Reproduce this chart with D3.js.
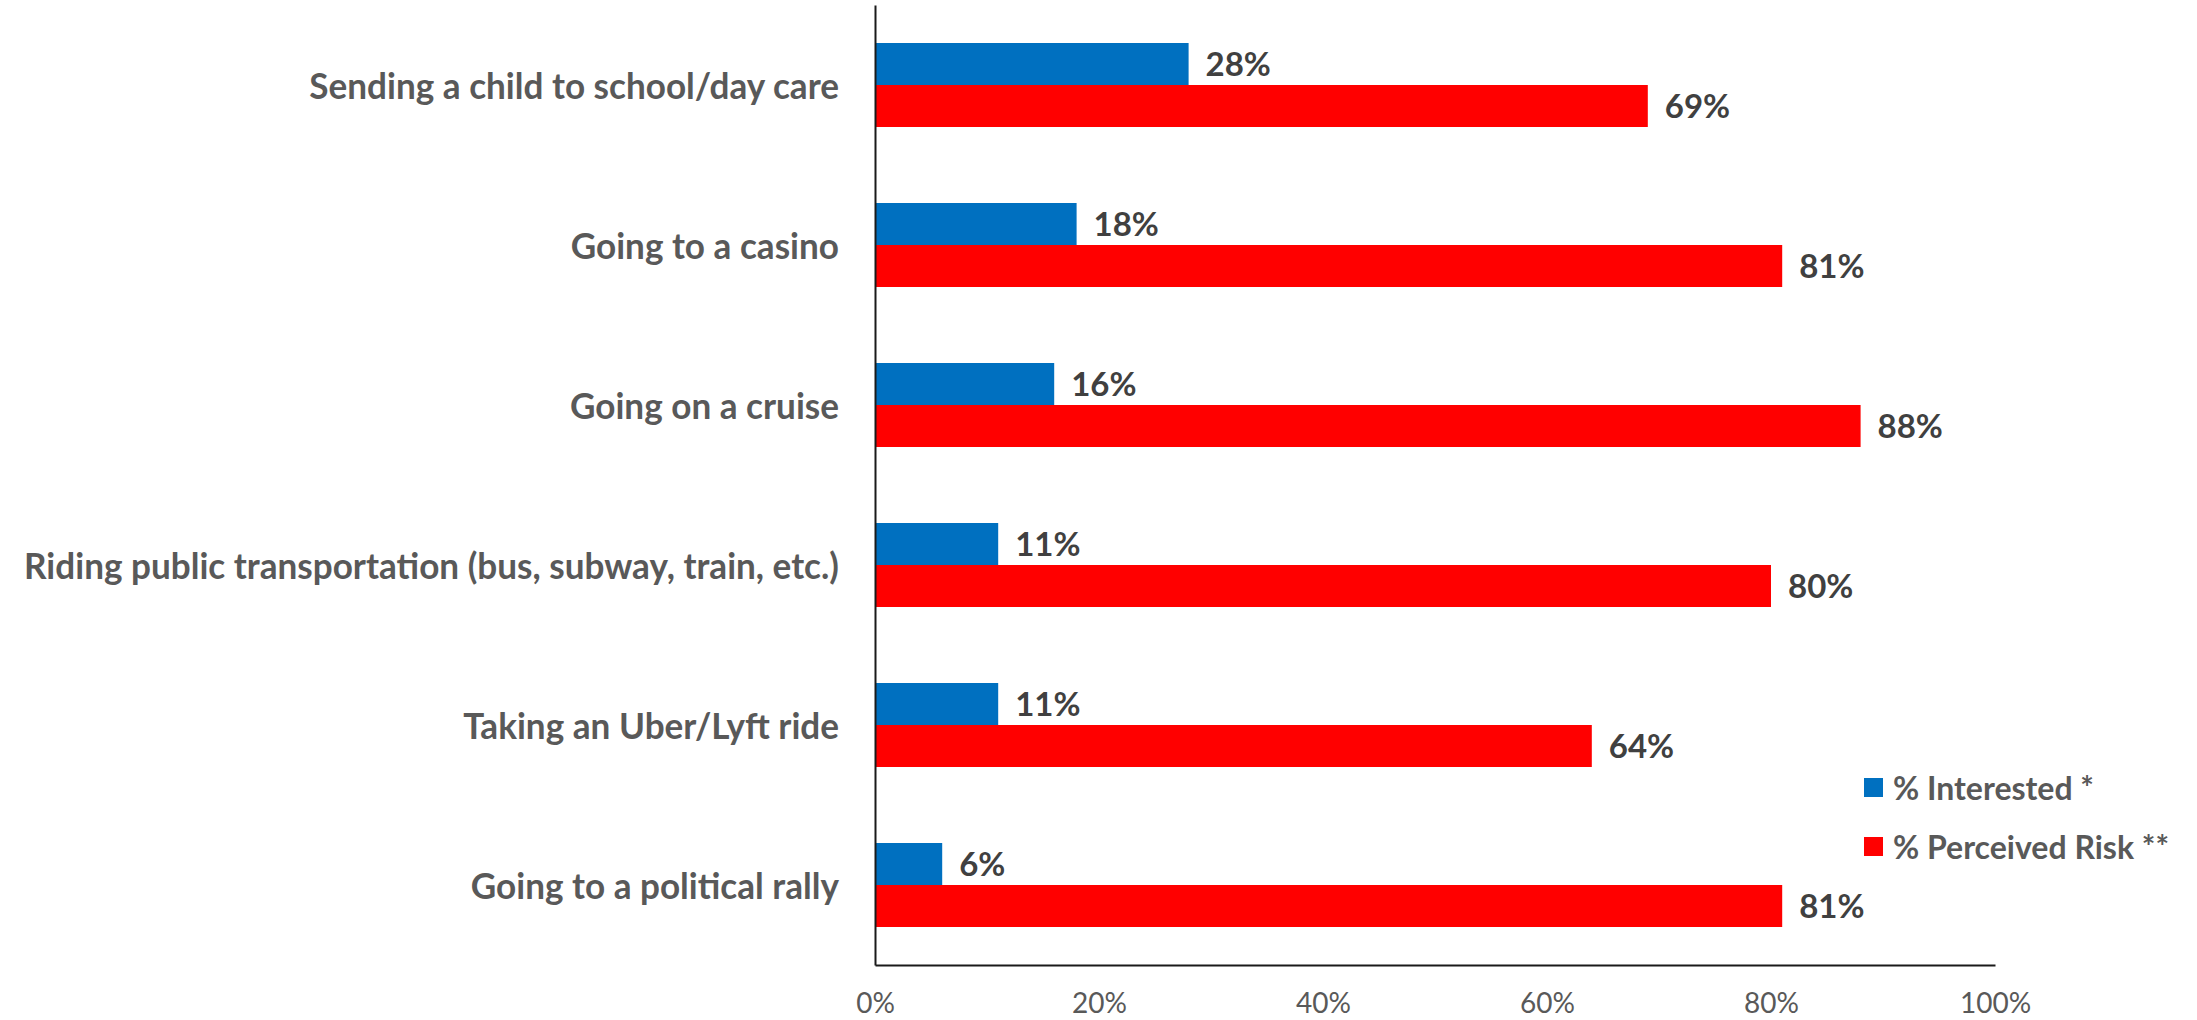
<!DOCTYPE html>
<html>
<head>
<meta charset="utf-8">
<script src="https://cdn.jsdelivr.net/npm/d3@7"></script>
<style>
  body { margin: 0; background: #fff; }
  svg { display: block; }
</style>
</head>
<body>
<svg id="chart"></svg>
<script>
const categories = [
    'Sending a child to school/day care',
    'Going to a casino',
    'Going on a cruise',
    'Riding public transportation (bus, subway, train, etc.)',
    'Taking an Uber/Lyft ride',
    'Going to a political rally'
]
const seriesNames = ['% Interested *', '% Perceived Risk **']
const interested = [28, 18, 16, 11, 11, 6]
const perceivedRisk = [69, 81, 88, 80, 64, 81]
const tickValues = [0, 20, 40, 60, 80, 100]

const colors = ['#0070C0', '#FF0000']

const width = 2197
const height = 1020
const margin = { left: 875, right: 202, top: 5, bottom: 55 }

const svg = d3.select('#chart')
    .attr('width', width)
    .attr('height', height)

const x = d3.scaleLinear()
    .domain([0, 100])
    .range([margin.left, width - margin.right])

const y = d3.scaleBand()
    .domain(categories)
    .range([margin.top, height - margin.bottom])
    .paddingInner(0.475)
    .paddingOuter(0.2375)

const ySub = d3.scaleBand()
    .domain(seriesNames)
    .range([0, y.bandwidth()])

const rows = categories.map((c, i) => ({
    name: c,
    values: [interested[i], perceivedRisk[i]]
}))

// bars
const group = svg.selectAll('g.cat')
    .data(rows)
    .enter().append('g')
    .attr('class', 'cat')
    .attr('transform', d => `translate(0, ${y(d.name)})`)

group.selectAll('rect')
    .data(d => d.values.map((v, k) => ({ key: seriesNames[k], v: v, k: k })))
    .enter().append('rect')
    .attr('x', x(0))
    .attr('y', d => ySub(d.key))
    .attr('width', d => x(d.v) - x(0))
    .attr('height', ySub.bandwidth())
    .attr('fill', d => colors[d.k])

group.selectAll('text.val')
    .data(d => d.values.map((v, k) => ({ key: seriesNames[k], v: v, k: k })))
    .enter().append('text')
    .attr('class', 'val')
    .attr('x', d => x(d.v) + 17)
    .attr('y', d => ySub(d.key) + ySub.bandwidth() / 2)
    .attr('dy', '0.36em')
    .style('font-family', 'Lato, sans-serif')
    .style('font-weight', 'bold')
    .style('font-size', '33px')
    .style('fill', '#404040')
    .text(d => d.v + '%')

// category labels (condensed like the original)
const labelX = x(0) - 36
const catLabels = svg.selectAll('text.cat-label')
    .data(categories)
    .enter().append('text')
    .attr('class', 'cat-label')
    .attr('text-anchor', 'end')
    .attr('y', d => y(d) + y.bandwidth() / 2 + 1)
    .attr('dy', '0.36em')
    .style('font-family', 'Lato, sans-serif')
    .style('font-weight', 'bold')
    .style('font-size', '36px')
    .style('fill', '#595959')
    .text(d => d)

const refWidth = catLabels.filter((d, i) => i === 0).node().getComputedTextLength()
const squeeze = 530 / refWidth
catLabels.attr('transform', `translate(${labelX}, 0) scale(${squeeze}, 1)`)

// axes
const xAxis = d3.axisBottom(x)
    .tickValues(tickValues)
    .tickFormat(d => d + '%')
    .tickSize(0)
    .tickPadding(28)

const xg = svg.append('g')
    .attr('transform', `translate(0, ${height - margin.bottom})`)
    .call(xAxis)
xg.select('.domain')
    .attr('stroke', '#1a1a1a')
    .attr('stroke-width', 2)
xg.selectAll('text')
    .style('font-family', 'Lato, sans-serif')
    .style('font-size', '28px')
    .style('fill', '#595959')

const yg = svg.append('g')
    .attr('transform', `translate(${x(0)}, 0)`)
    .call(d3.axisLeft(y).tickSize(0).tickFormat(''))
yg.select('.domain')
    .attr('stroke', '#1a1a1a')
    .attr('stroke-width', 2)

// legend
const legend = svg.append('g')
    .attr('transform', 'translate(1864, 778)')

const item = legend.selectAll('g')
    .data(seriesNames)
    .enter().append('g')
    .attr('transform', (d, i) => `translate(0, ${i * 59})`)

item.append('rect')
    .attr('width', 19)
    .attr('height', 19)
    .attr('fill', (d, i) => colors[i])

item.append('text')
    .attr('x', 29)
    .attr('y', 10)
    .attr('dy', '0.36em')
    .style('font-family', 'Lato, sans-serif')
    .style('font-weight', 'bold')
    .style('font-size', '32px')
    .style('fill', '#595959')
    .text(d => d)
</script>
</body>
</html>
